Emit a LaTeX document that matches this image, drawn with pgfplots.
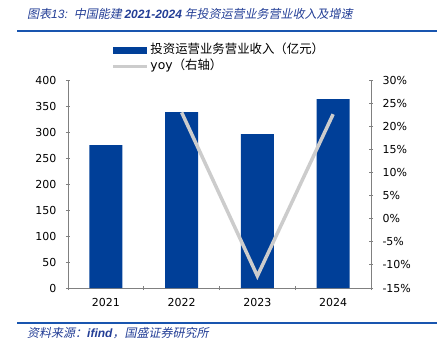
\documentclass[border=0pt]{standalone}
\usepackage{fontspec}
\usepackage{pgfplots}
\pgfplotsset{compat=1.18}
\setmainfont{DejaVu Sans}
\newfontfamily\cjk{Noto Sans CJK SC}
\newfontfamily\cjkit[FakeSlant=0.2]{Noto Sans CJK SC}
\newfontfamily\latit{Liberation Sans}
\definecolor{barblue}{RGB}{0,63,152}
\definecolor{linegray}{RGB}{204,204,204}
\definecolor{titleblue}{RGB}{35,62,150}
\definecolor{ruleblue}{RGB}{25,85,175}
\definecolor{axisgray}{RGB}{128,128,128}
\begin{document}
\begin{tikzpicture}
\useasboundingbox (0,0) rectangle (437bp,353bp);
% title
\node[anchor=west, inner sep=0pt, text=titleblue] at (27bp,339bp)
  {\fontsize{12bp}{14bp}\selectfont\cjkit 图表{\latit\itshape 13:}\hspace{6bp}中国能建 {\latit\bfseries\itshape 2021-2024} 年投资运营业务营业收入及增速};
\draw[ruleblue, line width=1.5bp] (17bp,322bp) -- (437bp,322bp);
\draw[ruleblue, line width=1.5bp] (17bp,30bp) -- (437bp,30bp);
\node[anchor=west, inner sep=0pt, text=titleblue] at (27bp,20bp)
  {\fontsize{12bp}{14bp}\selectfont\cjkit 资料来源：{\latit\bfseries\itshape ifind}，国盛证券研究所};

\begin{axis}[
  at={(68bp,65bp)}, anchor=south west,
  scale only axis, width=303bp, height=208bp,
  xmin=-0.5, xmax=3.5, ymin=0, ymax=400,
  axis y line*=left, axis x line*=bottom,
  axis line style={axisgray, line width=0.8bp},
  every tick/.style={axisgray, line width=0.8bp},
  ytick={0,50,...,400},
  yticklabels={0,50,100,150,200,250,300,350,400},
  xtick={0,1,2,3},
  xticklabels={2021,2022,2023,2024},
  major x tick style={draw=none},
  minor xtick={-0.5,0.5,1.5,2.5,3.5},
  minor tick length=4bp,
  major tick length=4bp,
  tick align=center,
  tick label style={font=\fontsize{11bp}{13bp}\selectfont},
  yticklabel style={xshift=-6bp},
  xticklabel style={yshift=-5bp},
  legend style={draw=none, fill=none, inner sep=0pt, outer sep=0pt,
    at={(0.1452,1.1827)}, anchor=north west,
    font=\fontsize{12.4bp}{12.4bp}\selectfont,
    nodes={inner xsep=1.5bp, inner ysep=2bp, text height=9bp, text depth=3bp},
    row sep=0pt},
  legend cell align=left,
  clip=false,
]
\addplot[ybar, bar width=33bp, bar shift=0pt, fill=barblue, draw=none,
  legend image code/.code={\fill[barblue] (0bp,-3.5bp) rectangle (34bp,3.5bp);}]
  coordinates {(0,275) (1,338) (2,296) (3,363)};
\addlegendentry{\cjk 投资运营业务营业收入（亿元）}
\addlegendimage{legend image code/.code={\draw[linegray, line width=3bp] (0bp,0bp) -- (34bp,0bp);}}
\addlegendentry{yoy\cjk（右轴）}
\end{axis}

\begin{axis}[
  at={(68bp,65bp)}, anchor=south west,
  scale only axis, width=303bp, height=208bp,
  xmin=-0.5, xmax=3.5, ymin=-15, ymax=30,
  axis y line*=right, axis x line=none,
  axis line style={axisgray, line width=0.8bp},
  every tick/.style={axisgray, line width=0.8bp},
  ytick={-15,-10,...,30},
  yticklabels={-15\%,-10\%,-5\%,0\%,5\%,10\%,15\%,20\%,25\%,30\%},
  major tick length=4bp,
  tick align=center,
  tick label style={font=\fontsize{11bp}{13bp}\selectfont},
  yticklabel style={xshift=6bp},
  clip=false,
]
\addplot[linegray, line width=3.5bp, no marks] coordinates {(1,23.0) (2,-12.4) (3,22.6)};
\end{axis}
\end{tikzpicture}
\end{document}
